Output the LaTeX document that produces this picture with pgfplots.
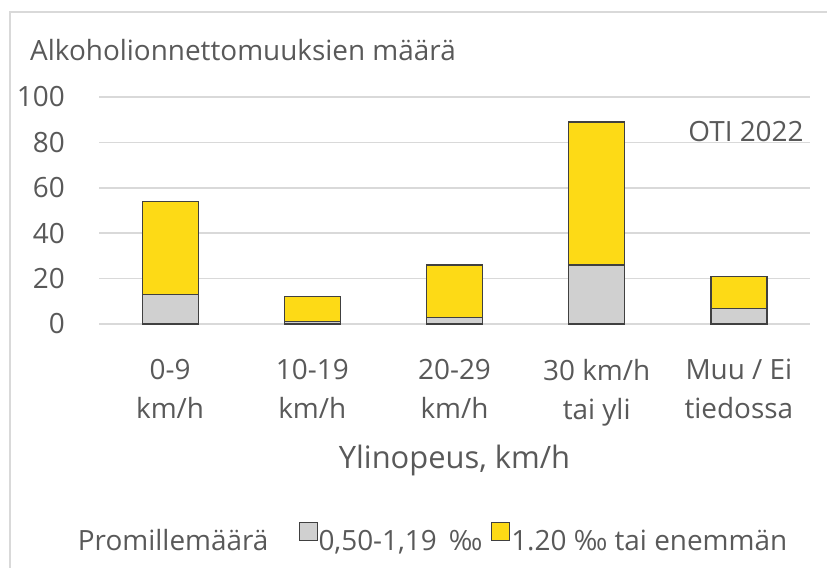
\documentclass[border=0pt]{standalone}
\usepackage{pgfplots}
\pgfplotsset{compat=1.18}
\usepackage{fontspec}
\setmainfont{Open Sans}
\definecolor{txt}{HTML}{595959}
\definecolor{gridc}{HTML}{D9D9D9}
\definecolor{yel}{HTML}{FDDA16}
\definecolor{hatchavg}{HTML}{D0D0D0}
\definecolor{borderc}{HTML}{404040}
\newcommand{\cf}{\fontsize{28}{39}\selectfont}
\begin{document}
\begin{tikzpicture}
\useasboundingbox (0,0) rectangle (827bp,-568bp);
\draw[gridc, line width=1.5bp] (10bp,-568bp) -- (10bp,-12bp) -- (827bp,-12bp);
\begin{axis}[
  at={(99bp,-324bp)}, anchor=south west,
  scale only axis, width=711bp, height=227bp,
  ybar stacked, bar width=56bp,
  xmin=-0.5, xmax=4.5, ymin=0, ymax=100,
  xtick={0,1,2,3,4},
  xticklabels={{0-9\\km/h},{10-19\\km/h},{20-29\\km/h},{30 km/h\\tai yli},{Muu / Ei\\tiedossa}},
  ytick={0,20,40,60,80,100},
  axis line style={draw=none},
  major tick length=0pt,
  ymajorgrids, grid style={gridc, line width=1.5bp},
  /pgf/number format/assume math mode=true,
  tick label style={font=\cf, text=txt},
  yticklabel style={anchor=east, inner sep=0pt, xshift=-34bp},
  xticklabel style={align=center, anchor=north, inner sep=0pt, yshift=-35bp},
  xlabel={Ylinopeus, km/h},
  xlabel style={at={(axis description cs:0.5,-0.599)}, anchor=center, inner sep=0pt, font=\fontsize{31}{38}\selectfont, text=txt},
  ylabel={Alkoholionnettomuuksien määrä},
  ylabel style={rotate=-90, at={(axis description cs:-0.097,1.207)}, anchor=west, inner sep=0pt, font=\cf, text=txt},
  legend columns=-1,
  legend style={at={(axis description cs:-0.031,-0.938)}, anchor=west, draw=none, fill=none,
    inner sep=0pt, outer sep=0pt, font=\cf, text=txt, nodes={inner sep=0pt},
    /tikz/every odd column/.append style={column sep=1bp},
    /tikz/every even column/.append style={column sep=9bp}},
  legend image code/.code={\draw[#1, line width=1bp] (0bp,1bp) rectangle (18bp,19bp);},
]
\addlegendimage{empty legend}
\addlegendentry{Promillemäärä\kern21bp}
\addplot[fill=hatchavg, draw=borderc, line width=1.2bp]
  coordinates {(0,13) (1,1) (2,3) (3,26) (4,7)};
\addlegendentry{0,50-1,19 \,‰}
\addplot[fill=yel, draw=borderc, line width=1.2bp]
  coordinates {(0,41) (1,11) (2,23) (3,63) (4,14)};
\addlegendentry{1.20 ‰ tai enemmän}
\node[text=txt, font=\cf, anchor=center, inner sep=0pt] at (axis description cs:0.91,0.85) {OTI 2022};
\end{axis}
\end{tikzpicture}
\end{document}
